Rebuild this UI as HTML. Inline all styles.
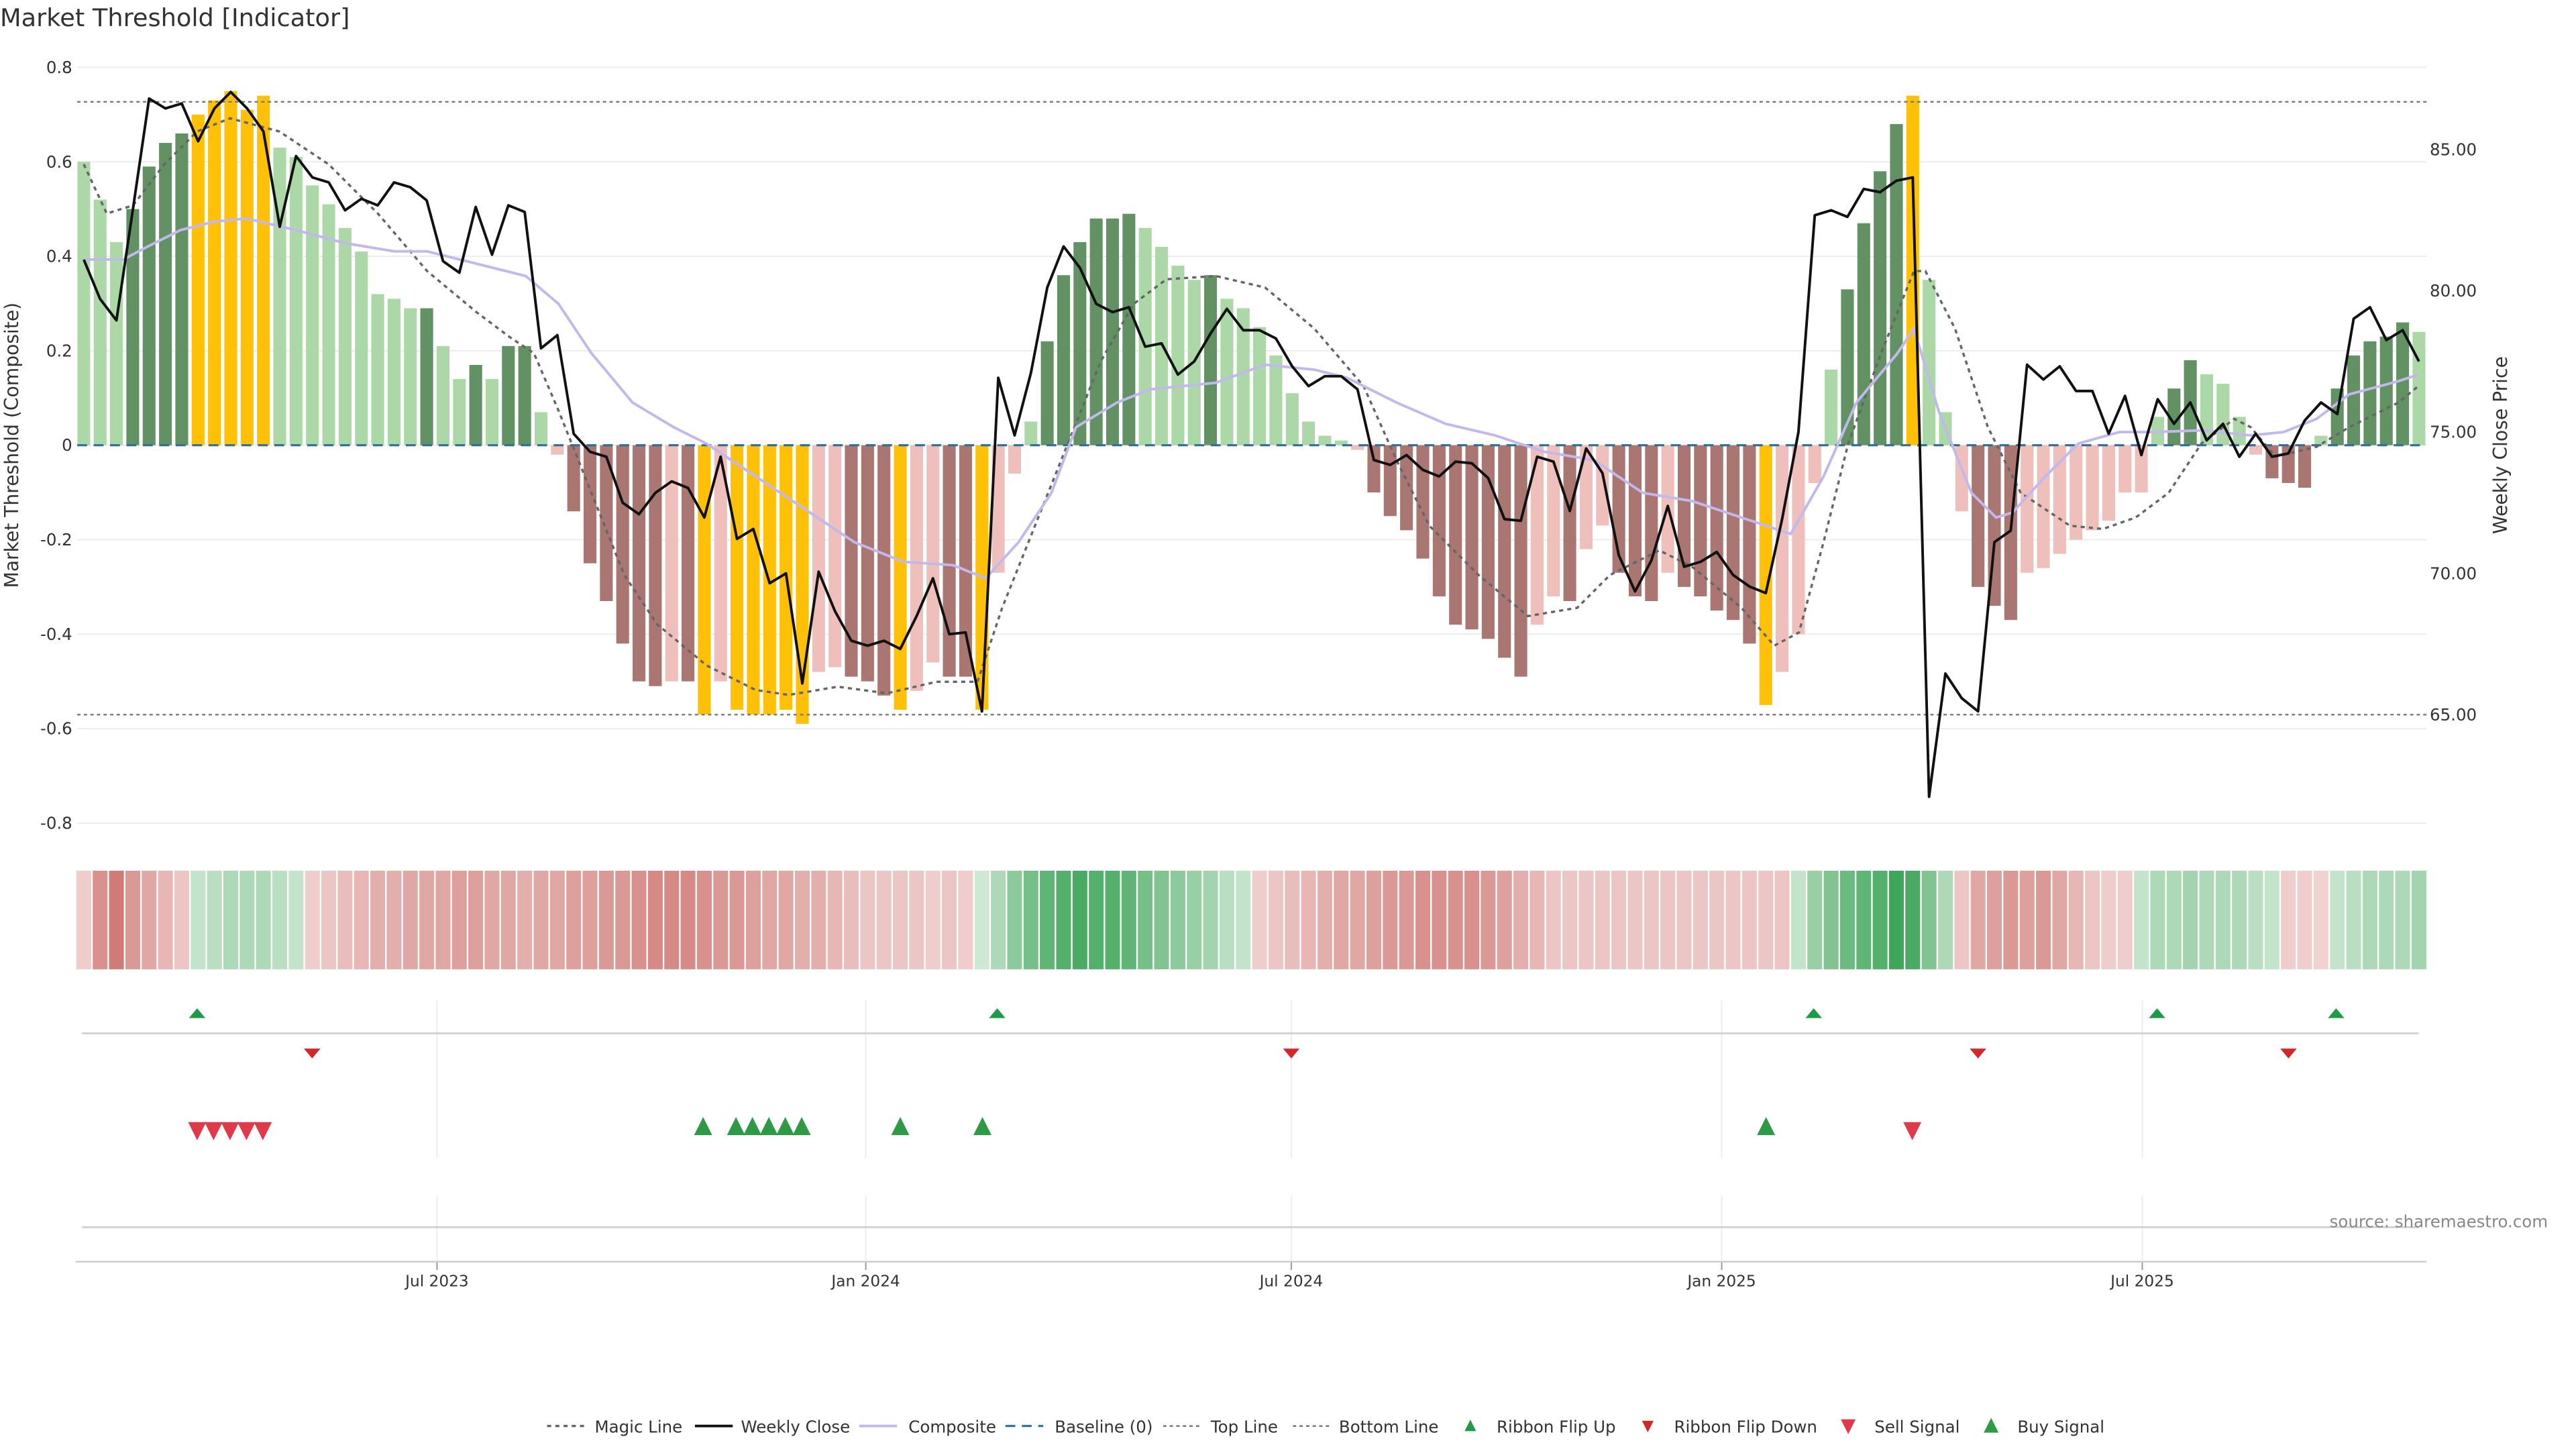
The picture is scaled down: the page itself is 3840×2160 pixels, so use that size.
<!DOCTYPE html>
<html><head><meta charset="utf-8"><style>
html,body{margin:0;padding:0;background:#fff;}
svg{display:block;font-family:"DejaVu Sans","Liberation Sans",sans-serif;}
</style></head><body>
<svg id="s" width="3840" height="2160" viewBox="0 0 1568 882" preserveAspectRatio="none" xmlns="http://www.w3.org/2000/svg"></svg>
<script>
const S=document.getElementById('s');let h='';
const X=i=>51+i*9.94;
const yv=v=>271-287.5*v;
h+='<text x="0" y="16" font-size="15" fill="#333">Market Threshold [Indicator]</text>';
[0.8,0.6,0.4,0.2,0,-0.2,-0.4,-0.6,-0.8].forEach(v=>{const y=yv(v);h+=`<line x1="47" x2="1477" y1="${y}" y2="${y}" stroke="#ececec" stroke-width="0.8"/>`;h+=`<text x="44" y="${y+3.5}" font-size="10" text-anchor="end" fill="#333">${v==0?'0':v.toFixed(1)}</text>`;});
[[85,91],[80,177],[75,263],[70,349],[65,435]].forEach(([p,y])=>{h+=`<text x="1479" y="${y+3.5}" font-size="10" fill="#333">${p.toFixed(2)}</text>`;});
h+='<text transform="translate(11,271) rotate(-90)" font-size="11.5" text-anchor="middle" fill="#333">Market Threshold (Composite)</text>';
h+='<text transform="translate(1526,271) rotate(-90)" font-size="11.5" text-anchor="middle" fill="#333">Weekly Close Price</text>';
const C={l:'#acd8a7',d:'#629263',g:'#ffc107',b:'#a97672',p:'#efc0bb'};
const B="0.60l 0.52l 0.43l 0.50d 0.59d 0.64d 0.66d 0.70g 0.73g 0.75g 0.71g 0.74g 0.63l 0.61l 0.55l 0.51l 0.46l 0.41l 0.32l 0.31l 0.29l 0.29d 0.21l 0.14l 0.17d 0.14l 0.21d 0.21d 0.07l -0.02p -0.14b -0.25b -0.33b -0.42b -0.50b -0.51b -0.50p -0.50b -0.57g -0.50p -0.56g -0.57g -0.57g -0.56g -0.59g -0.48p -0.47p -0.49b -0.50b -0.53b -0.56g -0.52p -0.46p -0.49b -0.49b -0.56g -0.27p -0.06p 0.05l 0.22d 0.36d 0.43d 0.48d 0.48d 0.49d 0.46l 0.42l 0.38l 0.35l 0.36d 0.31l 0.29l 0.25l 0.19l 0.11l 0.05l 0.02l 0.01l -0.01p -0.10b -0.15b -0.18b -0.24b -0.32b -0.38b -0.39b -0.41b -0.45b -0.49b -0.38p -0.32p -0.33b -0.22p -0.17p -0.27b -0.32b -0.33b -0.27p -0.30b -0.32b -0.35b -0.37b -0.42b -0.55g -0.48p -0.40p -0.08p 0.16l 0.33d 0.47d 0.58d 0.68d 0.74g 0.35l 0.07l -0.14p -0.30b -0.34b -0.37b -0.27p -0.26p -0.23p -0.20p -0.18p -0.16p -0.10p -0.10p 0.06l 0.12d 0.18d 0.15l 0.13l 0.06l -0.02p -0.07b -0.08b -0.09b 0.02l 0.12d 0.19d 0.22d 0.23d 0.26d 0.24l".split(' ');
B.forEach((s,i)=>{const v=parseFloat(s),c=C[s.slice(-1)];const y0=yv(Math.max(v,0)),hh=Math.abs(v)*287.5;h+=`<rect x="${X(i)-3.9}" y="${y0}" width="7.8" height="${hh}" fill="${c}"/>`;});
h+='<line x1="47" x2="1477" y1="62" y2="62" stroke="#777" stroke-width="1" stroke-dasharray="2,2"/>';
h+='<line x1="47" x2="1477" y1="435" y2="435" stroke="#777" stroke-width="1" stroke-dasharray="2,2"/>';
h+='<line x1="47" x2="1477" y1="271" y2="271" stroke="#2f6f96" stroke-width="1.3" stroke-dasharray="6,4"/>';
const pl=(pts,st)=>{h+=`<polyline fill="none" points="${pts.map(p=>p.join(',')).join(' ')}" ${st}/>`;};
const mag=[[51,100],[65,130],[81,125],[100,100],[120,80],[140,72],[170,80],[200,100],[230,130],[260,165],[290,190],[310,205],[325,215],[340,250],[360,300],[380,350],[400,380],[430,405],[460,420],[480,423],[510,418],[540,422],[570,415],[595,415],[610,370],[630,320],[650,270],[670,220],[690,185],[710,170],[740,168],[770,175],[800,200],[830,235],[850,280],[870,320],[900,350],[930,375],[960,370],[980,350],[1010,335],[1030,345],[1060,370],[1080,393],[1095,385],[1110,330],[1125,270],[1145,215],[1165,165],[1172,165],[1190,200],[1210,260],[1230,300],[1260,320],[1280,322],[1300,315],[1320,300],[1340,270],[1360,255],[1370,260],[1385,278],[1410,272],[1430,260],[1460,245],[1472,235]];
pl(mag,'stroke="#666" stroke-width="1.4" stroke-dasharray="2.5,2.5"');
const comp=[[51,158],[75,158],[90,150],[110,140],[130,135],[150,133],[180,140],[210,148],[240,153],[260,153],[300,163],[320,168],[340,185],[360,215],[385,245],[410,260],[430,270],[460,290],[490,310],[520,330],[550,342],[580,344],[600,352],[620,330],[640,300],[655,260],[680,245],[700,237],[740,233],[770,222],[800,225],[820,230],[850,245],[880,258],[910,265],[940,275],[970,280],[1000,300],[1030,305],[1060,315],[1090,325],[1110,290],[1130,245],[1155,215],[1165,200],[1180,250],[1200,300],[1215,315],[1225,312],[1245,290],[1265,270],[1290,263],[1310,263],[1340,262],[1370,265],[1390,263],[1410,255],[1430,240],[1460,232],[1472,228]];
pl(comp,'stroke="#c3b8ec" stroke-width="1.6"');
const wc=[158,182,195,128,60,66,63,86,66,56,66,80,138,95,108,111,128,121,125,111,114,122,159,166,126,155,125,129,212,204,264,275,278,306,313,300,293,297,315,278,328,322,355,349,416,348,372,390,393,390,395,375,352,386,385,433,230,265,227,175,150,163,185,190,187,211,209,228,220,203,188,201,201,206,223,235,229,229,237,280,283,277,286,290,281,282,291,316,317,278,281,311,273,288,338,360,341,308,345,342,336,350,357,361,316,263,131,128,132,115,117,110,108,485,410,425,433,330,323,222,231,223,238,238,264,241,277,243,258,245,268,258,278,264,278,276,256,245,252,194,187,207,201,220];
pl(wc.map((y,i)=>[X(i),y]),'stroke="#111" stroke-width="1.6" stroke-linejoin="round"');
const HS=[-0.15,-0.55,-0.7,-0.5,-0.4,-0.3,-0.2,0.2,0.25,0.3,0.3,0.3,0.25,0.2,-0.15,-0.2,-0.25,-0.3,-0.35,-0.35,-0.4,-0.4,-0.4,-0.45,-0.45,-0.4,-0.4,-0.35,-0.4,-0.4,-0.45,-0.45,-0.5,-0.5,-0.55,-0.6,-0.6,-0.6,-0.55,-0.5,-0.5,-0.45,-0.4,-0.4,-0.35,-0.35,-0.3,-0.25,-0.2,-0.2,-0.2,-0.2,-0.15,-0.2,-0.15,0.15,0.3,0.45,0.55,0.65,0.7,0.75,0.7,0.7,0.65,0.55,0.5,0.45,0.4,0.35,0.25,0.2,-0.15,-0.2,-0.25,-0.3,-0.35,-0.4,-0.4,-0.45,-0.5,-0.5,-0.55,-0.55,-0.55,-0.55,-0.5,-0.45,-0.35,-0.3,-0.2,-0.2,-0.2,-0.2,-0.2,-0.2,-0.2,-0.2,-0.2,-0.2,-0.2,-0.2,-0.2,-0.2,-0.2,0.2,0.4,0.5,0.6,0.65,0.7,0.8,0.75,0.5,0.3,-0.2,-0.4,-0.45,-0.5,-0.45,-0.5,-0.4,-0.3,-0.2,-0.15,-0.15,0.2,0.3,0.3,0.35,0.3,0.3,0.3,0.25,0.2,-0.15,-0.15,-0.12,0.2,0.25,0.3,0.3,0.3,0.35];
const mix=(a,b,t)=>'rgb('+a.map((v,k)=>Math.round(v+(b[k]-v)*t)).join(',')+')';
HS.forEach((v,i)=>{const t=Math.min(1,Math.abs(v)/0.85);const c=v>0?mix([240,248,241],[52,160,80],t):mix([246,228,228],[200,100,94],t);h+=`<rect x="${X(i)-4.5}" y="530" width="9" height="60" fill="${c}"/>`;});
const ticks=[[266,'Jul 2023'],[527,'Jan 2024'],[786,'Jul 2024'],[1048,'Jan 2025'],[1304,'Jul 2025']];
ticks.forEach(([x,l])=>{h+=`<line x1="${x}" x2="${x}" y1="609" y2="705" stroke="#eee" stroke-width="0.8"/><line x1="${x}" x2="${x}" y1="728" y2="768" stroke="#eee" stroke-width="0.8"/><line x1="${x}" x2="${x}" y1="768" y2="773" stroke="#999" stroke-width="0.8"/><text x="${x}" y="783" font-size="9.5" text-anchor="middle" fill="#333">${l}</text>`;});
h+='<line x1="50" x2="1472" y1="629" y2="629" stroke="#ccc" stroke-width="1"/>';
h+='<line x1="50" x2="1472" y1="747" y2="747" stroke="#ccc" stroke-width="1"/>';
h+='<line x1="46" x2="1477" y1="768" y2="768" stroke="#ccc" stroke-width="1"/>';
const up=(x,y,s,c,k)=>{k=k||1;h+=`<polygon points="${x-s},${y+s*0.9*k} ${x+s},${y+s*0.9*k} ${x},${y-s*1.1*k}" fill="${c}"/>`;};
const dn=(x,y,s,c,k)=>{k=k||1;h+=`<polygon points="${x-s},${y-s*0.9*k} ${x+s},${y-s*0.9*k} ${x},${y+s*1.1*k}" fill="${c}"/>`;};
[120,607,1104,1313,1422].forEach(x=>up(x,617,5,'#1f9a48',0.6));
[190,786,1204,1393].forEach(x=>dn(x,641,5,'#d42828',0.6));
[120,130,140,150,160,1164].forEach(x=>dn(x,688,5.5,'#e03a4a'));
[428,448,458,468,478,488,548,598,1075].forEach(x=>up(x,686,5.5,'#2e9a45'));
h+='<text x="1418" y="747" font-size="10" fill="#888">source: sharemaestro.com</text>';
const ly=868;
const lt=(x,t)=>{h+=`<text x="${x}" y="${ly+4}" font-size="10" fill="#333">${t}</text>`;};
h+=`<line x1="333" x2="356" y1="${ly}" y2="${ly}" stroke="#666" stroke-width="1.4" stroke-dasharray="2.5,2.5"/>`;lt(362,'Magic Line');
h+=`<line x1="423" x2="446" y1="${ly}" y2="${ly}" stroke="#111" stroke-width="1.6"/>`;lt(451,'Weekly Close');
h+=`<line x1="523" x2="546" y1="${ly}" y2="${ly}" stroke="#c3b8ec" stroke-width="1.6"/>`;lt(553,'Composite');
h+=`<line x1="612" x2="635" y1="${ly}" y2="${ly}" stroke="#2f6f96" stroke-width="1.3" stroke-dasharray="6,4"/>`;lt(642,'Baseline (0)');
h+=`<line x1="708" x2="731" y1="${ly}" y2="${ly}" stroke="#777" stroke-width="1" stroke-dasharray="2,2"/>`;lt(737,'Top Line');
h+=`<line x1="787" x2="810" y1="${ly}" y2="${ly}" stroke="#777" stroke-width="1" stroke-dasharray="2,2"/>`;lt(815,'Bottom Line');
up(895,ly,3.5,'#1f9a48');lt(911,'Ribbon Flip Up');
dn(1003,ly,3.5,'#d42828');lt(1019,'Ribbon Flip Down');
dn(1125,ly,4.5,'#e03a4a');lt(1141,'Sell Signal');
up(1212,ly,4.5,'#2e9a45');lt(1228,'Buy Signal');
S.innerHTML=h;
</script>
</body></html>
